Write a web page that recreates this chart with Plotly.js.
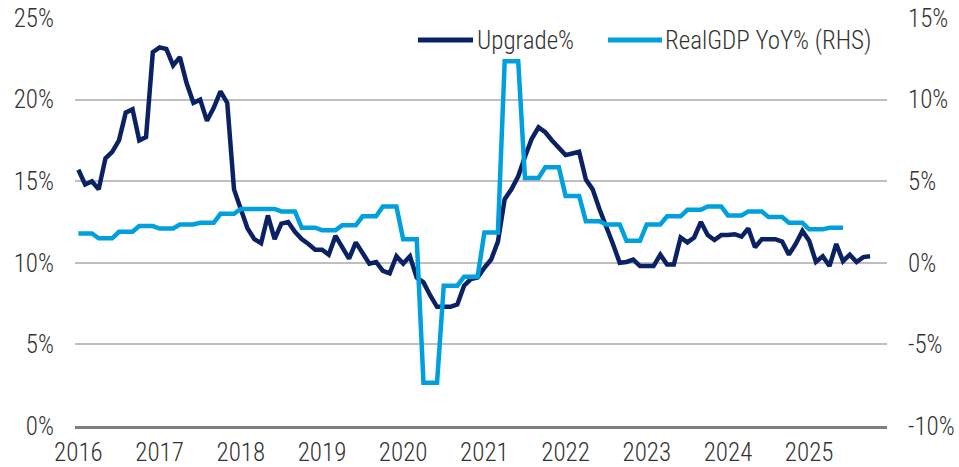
<!DOCTYPE html>
<html>
<head>
<meta charset="utf-8">
<script src="https://cdn.plot.ly/plotly-3.0.1.min.js"></script>
<style>
html,body{margin:0;padding:0;background:#fff;}
#chart{width:959px;height:467px;}
</style>
</head>
<body>
<div id="chart"></div>
<script>
// Month categories Jan 2016 .. Dec 2025
const startYear = 2016;
const endYear = 2025;
const months = [];
for (let y = startYear; y <= endYear; y++) {
  for (let m = 1; m <= 12; m++) months.push(y + '-' + String(m).padStart(2, '0'));
}
const yearTickVals = ['2016-01','2017-01','2018-01','2019-01','2020-01','2021-01','2022-01','2023-01','2024-01','2025-01'];
const yearTickText = ['2016','2017','2018','2019','2020','2021','2022','2023','2024','2025'];

// Upgrade% (LHS), monthly Jan 2016 .. Oct 2025
const upgradePct = [
  15.7,14.8,15.0,14.5,16.4,16.8,17.5,19.2,19.4,17.5,17.7,22.9,
  23.2,23.1,22.1,22.6,21.0,19.8,20.0,18.7,19.5,20.5,19.8,14.5,
  13.3,12.1,11.45,11.2,12.9,11.45,12.4,12.5,11.9,11.45,11.15,10.8,
  10.8,10.5,11.65,10.95,10.25,11.25,10.55,9.95,10.05,9.5,9.35,10.4,
  9.95,10.4,9.1,8.8,8.0,7.3,7.3,7.3,7.45,8.6,9.0,9.1,
  9.7,10.2,11.3,13.9,14.5,15.3,16.5,17.6,18.3,18.0,17.5,17.0,
  16.6,16.7,16.8,15.1,14.5,13.3,12.3,11.15,10.0,10.05,10.2,9.8,
  9.8,9.8,10.5,9.9,9.9,11.55,11.25,11.55,12.5,11.7,11.4,11.7,
  11.7,11.75,11.6,12.1,10.95,11.45,11.45,11.45,11.3,10.5,11.15,11.95,
  11.35,10.05,10.4,9.8,11.15,10.1,10.5,10.05,10.35,10.4
];

// Real GDP YoY% (RHS), quarterly values shown monthly Jan 2016 .. Jun 2025
const realGdpYoY = [
  1.8,1.8,1.8, 1.5,1.5,1.5, 1.9,1.9,1.9, 2.25,2.25,2.25,
  2.1,2.1,2.1, 2.35,2.35,2.35, 2.45,2.45,2.45, 3.0,3.0,3.0,
  3.3,3.3,3.3, 3.3,3.3,3.3, 3.15,3.15,3.15, 2.15,2.15,2.15,
  2.0,2.0,2.0, 2.3,2.3,2.3, 2.85,2.85,2.85, 3.45,3.45,3.45,
  1.45,1.45,1.45, -7.35,-7.35,-7.35, -1.4,-1.4,-1.4, -0.85,-0.85,-0.85,
  1.85,1.85,1.85, 12.35,12.35,12.35, 5.2,5.2,5.2, 5.85,5.85,5.85,
  4.1,4.1,4.1, 2.55,2.55,2.55, 2.35,2.35,2.35, 1.35,1.35,1.35,
  2.35,2.35,2.35, 2.85,2.85,2.85, 3.25,3.25,3.25, 3.45,3.45,3.45,
  2.9,2.9,2.9, 3.15,3.15,3.15, 2.8,2.8,2.8, 2.45,2.45,2.45,
  2.05,2.05,2.05, 2.15,2.15,2.15
];

const seriesNames = ['Upgrade%', 'RealGDP YoY% (RHS)'];
const leftTickVals = [0,5,10,15,20,25];
const leftTickText = ['0%','5%','10%','15%','20%','25%'];
const rightTickVals = [-10,-5,0,5,10,15];
const rightTickText = ['-10%','-5%','0%','5%','10%','15%'];

const navy = '#0A2264';
const sky = '#00A0DF';
const FONT = '"Roboto Condensed", Roboto, sans-serif';
const textColor = '#333333';
const tickFont = {family: FONT, size: 25, color: textColor, weight: 300};

const traces = [
  {x: months.slice(0, realGdpYoY.length), y: realGdpYoY, name: seriesNames[1], type: 'scatter', mode: 'lines',
   line: {color: sky, width: 4.5}, yaxis: 'y2'},
  {x: months.slice(0, upgradePct.length), y: upgradePct, name: seriesNames[0], type: 'scatter', mode: 'lines',
   line: {color: navy, width: 4.5}, yaxis: 'y'}
];

const L = 75, R = 887, T = 18, B = 426;
const px = v => (v - L) / (R - L);
const py = v => (B - v) / (B - T);

const layout = {
  width: 959, height: 467,
  margin: {l: L, r: 959 - R, t: T, b: 467 - B, pad: 0},
  paper_bgcolor: '#fff', plot_bgcolor: '#fff',
  showlegend: false,
  font: {family: FONT, weight: 300, color: textColor},
  xaxis: {
    type: 'category', categoryorder: 'array', categoryarray: months,
    range: [-0.5, months.length - 0.5],
    tickmode: 'array', tickvals: yearTickVals, ticktext: yearTickText,
    showgrid: false, zeroline: false,
    showline: true, linecolor: '#7F7F7F', linewidth: 3,
    ticks: '', tickfont: tickFont, ticklabelstandoff: 2
  },
  yaxis: {
    range: [0, 25], tickmode: 'array', tickvals: leftTickVals, ticktext: leftTickText,
    showgrid: true, gridcolor: '#BFBFBF', gridwidth: 2,
    zeroline: false, showline: false, ticks: '', tickfont: tickFont, ticklabelstandoff: 20
  },
  yaxis2: {
    range: [-10, 15], overlaying: 'y', side: 'right',
    tickmode: 'array', tickvals: rightTickVals, ticktext: rightTickText,
    showgrid: false, zeroline: false, showline: false, ticks: '', tickfont: tickFont, ticklabelstandoff: 20
  },
  shapes: [
    {type: 'line', xref: 'paper', yref: 'paper', x0: px(418), x1: px(473), y0: py(40), y1: py(40),
     line: {color: navy, width: 5}},
    {type: 'line', xref: 'paper', yref: 'paper', x0: px(608), x1: px(662), y0: py(40), y1: py(40),
     line: {color: sky, width: 5}}
  ],
  annotations: [
    {xref: 'paper', yref: 'paper', x: px(475), y: py(40), xanchor: 'left', yanchor: 'middle',
     text: seriesNames[0], showarrow: false, font: {family: FONT, size: 25, color: textColor, weight: 300}},
    {xref: 'paper', yref: 'paper', x: px(663), y: py(40), xanchor: 'left', yanchor: 'middle',
     text: seriesNames[1], showarrow: false, font: {family: FONT, size: 25, color: textColor, weight: 300}}
  ]
};

Plotly.newPlot('chart', traces, layout, {staticPlot: true, displayModeBar: false});
</script>
</body>
</html>
